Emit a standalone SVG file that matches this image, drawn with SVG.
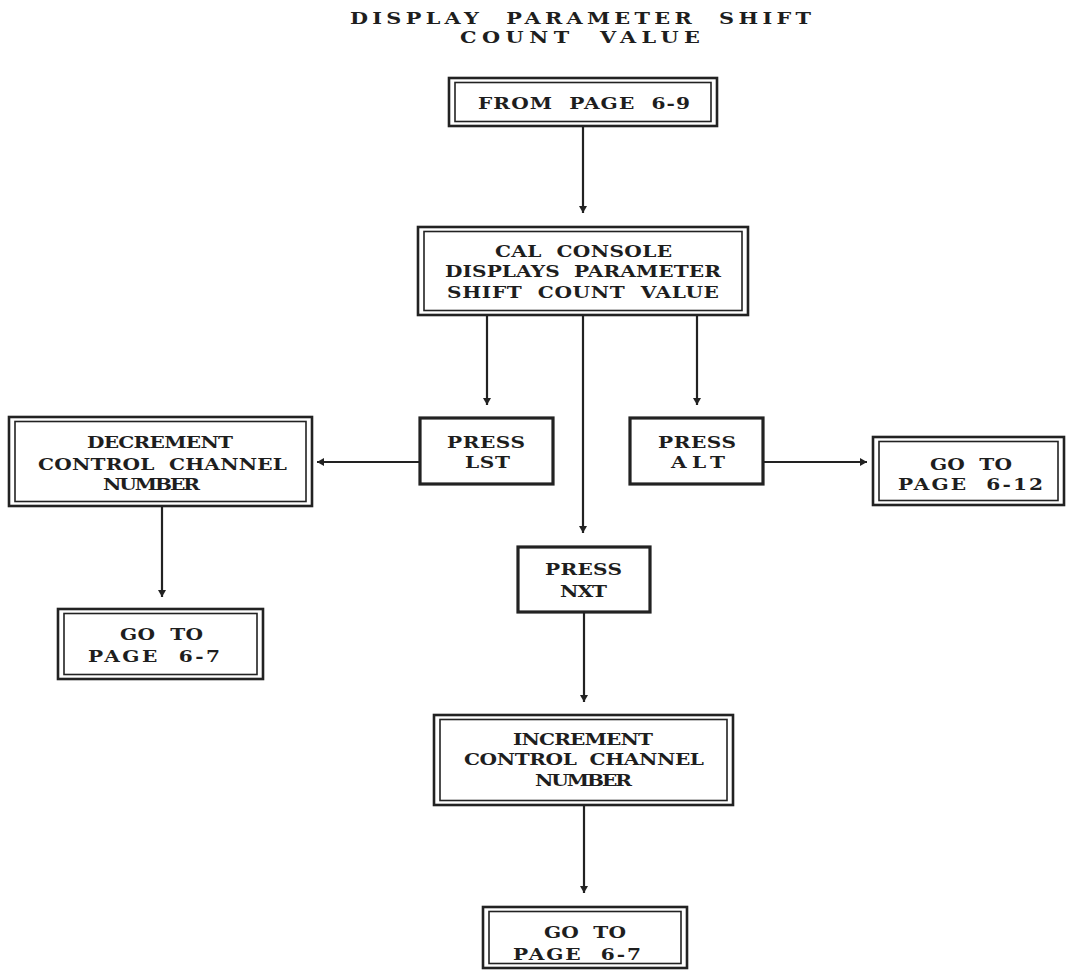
<svg xmlns="http://www.w3.org/2000/svg" width="1070" height="973" viewBox="0 0 1070 973">
  <style>
    .bg { fill: #ffffff; }
    .outer { fill: none; stroke: #222; stroke-width: 2.6; }
    .inner { fill: none; stroke: #222; stroke-width: 1.6; }
    .single { fill: #fff; stroke: #222; stroke-width: 3.2; }
    .label { font-family: "DejaVu Serif", "Liberation Serif", serif; font-weight: bold; font-size: 17.5px; fill: #1e1e1e; }
    .title { font-family: "DejaVu Serif", "Liberation Serif", serif; font-weight: bold; font-size: 16px; fill: #1e1e1e; }
    .conn { fill: none; stroke: #222; stroke-width: 2.2; }
  </style>
  <defs>
    <marker id="arrow" markerUnits="userSpaceOnUse" markerWidth="10" markerHeight="10" refX="7" refY="4" orient="auto">
      <path d="M0,0 L7,4 L0,8 z" fill="#222"/>
    </marker>
  </defs>

  <rect class="bg" x="0" y="0" width="1070" height="973"/>

  <!-- heading; glyphs widened horizontally -->
  <g id="title">
    <text class="title" transform="translate(350,24) scale(1.3,1)" textLength="354.6" lengthAdjust="spacing">DISPLAY&#160;&#160;PARAMETER&#160;&#160;SHIFT</text>
    <text class="title" transform="translate(460,43) scale(1.3,1)" textLength="184.6" lengthAdjust="spacing">COUNT&#160;&#160;VALUE</text>
  </g>

  <!-- connectors -->
  <g id="connectors">
    <path class="conn" d="M583,126 V213" marker-end="url(#arrow)"/>
    <path class="conn" d="M487,315 V405" marker-end="url(#arrow)"/>
    <path class="conn" d="M697,315 V405" marker-end="url(#arrow)"/>
    <path class="conn" d="M583,315 V533" marker-end="url(#arrow)"/>
    <path class="conn" d="M420,462 H317" marker-end="url(#arrow)"/>
    <path class="conn" d="M763,462 H867" marker-end="url(#arrow)"/>
    <path class="conn" d="M162,506 V597" marker-end="url(#arrow)"/>
    <path class="conn" d="M584,612 V702" marker-end="url(#arrow)"/>
    <path class="conn" d="M584,805 V893" marker-end="url(#arrow)"/>
  </g>

  <!-- from page 6-9 -->
  <g id="from-page">
    <rect class="outer" x="449" y="78" width="268" height="48"/>
    <rect class="inner" x="455" y="82.5" width="256" height="39"/>
    <text class="label" transform="translate(478,109) scale(1.15,1)" textLength="184.3" lengthAdjust="spacing">FROM&#160;&#160;PAGE&#160;&#160;6-9</text>
  </g>

  <!-- console display -->
  <g id="cal-console">
    <rect class="outer" x="418" y="227" width="330" height="88"/>
    <rect class="inner" x="424" y="231.5" width="318" height="79"/>
    <text class="label" transform="translate(495,257) scale(1.15,1)" textLength="153.9" lengthAdjust="spacing">CAL&#160;&#160;CONSOLE</text>
    <text class="label" transform="translate(445,277) scale(1.15,1)" textLength="240" lengthAdjust="spacing">DISPLAYS&#160;&#160;PARAMETER</text>
    <text class="label" transform="translate(447,298) scale(1.15,1)" textLength="236.5" lengthAdjust="spacing">SHIFT&#160;&#160;COUNT&#160;&#160;VALUE</text>
  </g>

  <!-- key presses -->
  <g id="press-lst">
    <rect class="single" x="420" y="418" width="133" height="66"/>
    <text class="label" transform="translate(447,448) scale(1.15,1)" textLength="67.8" lengthAdjust="spacing">PRESS</text>
    <text class="label" transform="translate(465,468) scale(1.15,1)" textLength="39.1" lengthAdjust="spacing">LST</text>
  </g>

  <g id="press-alt">
    <rect class="single" x="630" y="418" width="133" height="66"/>
    <text class="label" transform="translate(658,448) scale(1.15,1)" textLength="67.8" lengthAdjust="spacing">PRESS</text>
    <text class="label" transform="translate(671,468) scale(1.15,1)" textLength="47" lengthAdjust="spacing">ALT</text>
  </g>

  <g id="press-nxt">
    <rect class="single" x="518" y="547" width="132" height="65"/>
    <text class="label" transform="translate(545,575) scale(1.15,1)" textLength="67" lengthAdjust="spacing">PRESS</text>
    <text class="label" transform="translate(560,597) scale(1.15,1)" textLength="40.9" lengthAdjust="spacing">NXT</text>
  </g>

  <!-- channel steps -->
  <g id="decrement">
    <rect class="outer" x="9" y="417" width="303" height="89"/>
    <rect class="inner" x="15" y="421.5" width="291" height="80"/>
    <text class="label" transform="translate(87,448) scale(1.15,1)" textLength="127" lengthAdjust="spacing">DECREMENT</text>
    <text class="label" transform="translate(38,470) scale(1.15,1)" textLength="216.5" lengthAdjust="spacing">CONTROL&#160;&#160;CHANNEL</text>
    <text class="label" transform="translate(103,490) scale(1.15,1)" textLength="84.3" lengthAdjust="spacing">NUMBER</text>
  </g>

  <g id="increment">
    <rect class="outer" x="434" y="715" width="299" height="90"/>
    <rect class="inner" x="440" y="719.5" width="287" height="81"/>
    <text class="label" transform="translate(513,745) scale(1.15,1)" textLength="121.7" lengthAdjust="spacing">INCREMENT</text>
    <text class="label" transform="translate(464,765) scale(1.15,1)" textLength="208.7" lengthAdjust="spacing">CONTROL&#160;&#160;CHANNEL</text>
    <text class="label" transform="translate(535,786) scale(1.15,1)" textLength="84.3" lengthAdjust="spacing">NUMBER</text>
  </g>

  <!-- exits -->
  <g id="goto-left">
    <rect class="outer" x="58" y="609" width="205" height="70"/>
    <rect class="inner" x="64" y="613.5" width="193" height="61"/>
    <text class="label" transform="translate(120,640) scale(1.15,1)" textLength="72.2" lengthAdjust="spacing">GO&#160;&#160;TO</text>
    <text class="label" transform="translate(88,662) scale(1.15,1)" textLength="114.8" lengthAdjust="spacing">PAGE&#160;&#160;6-7</text>
  </g>

  <g id="goto-right">
    <rect class="outer" x="873" y="437" width="191" height="68"/>
    <rect class="inner" x="879" y="441.5" width="179" height="59"/>
    <text class="label" transform="translate(930,470) scale(1.15,1)" textLength="71.3" lengthAdjust="spacing">GO&#160;&#160;TO</text>
    <text class="label" transform="translate(898,490) scale(1.15,1)" textLength="126.1" lengthAdjust="spacing">PAGE&#160;&#160;6-12</text>
  </g>

  <g id="goto-bottom">
    <rect class="outer" x="483" y="907" width="204" height="61"/>
    <rect class="inner" x="489" y="911.5" width="192" height="52"/>
    <text class="label" transform="translate(544,938) scale(1.15,1)" textLength="71.3" lengthAdjust="spacing">GO&#160;&#160;TO</text>
    <text class="label" transform="translate(513,960) scale(1.15,1)" textLength="111.3" lengthAdjust="spacing">PAGE&#160;&#160;6-7</text>
  </g>
</svg>
